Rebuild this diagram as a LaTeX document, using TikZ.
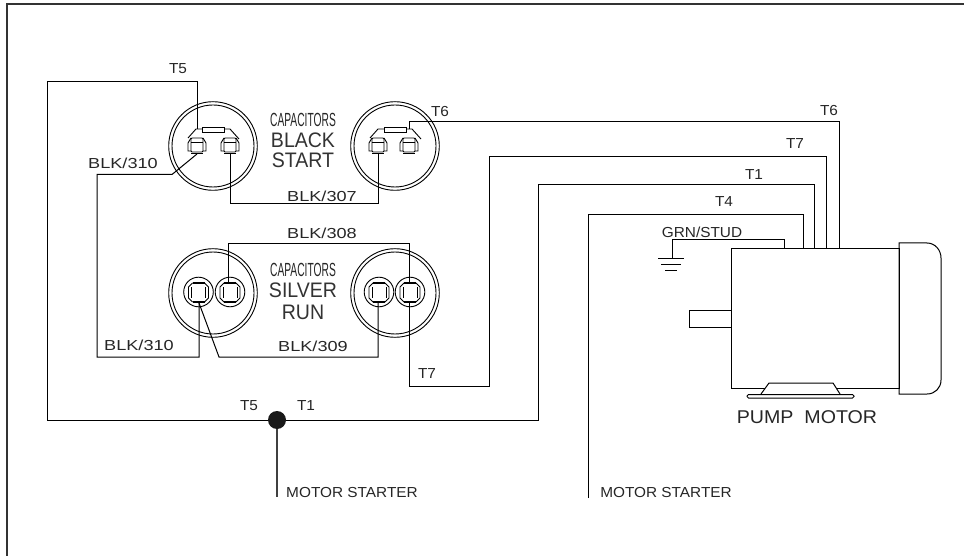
\documentclass[tikz,border=0pt]{standalone}
\usepackage{fontspec}
\setmainfont{Liberation Sans}
\newfontfamily\cadfont[FakeStretch=1.06]{Liberation Sans}
\newfontfamily\cadwide[FakeStretch=1.25]{Liberation Sans}
\newfontfamily\cadbig[FakeStretch=0.93]{Liberation Sans}
\newfontfamily\cadpump[FakeStretch=1.06]{Liberation Sans}
\newfontfamily\cadnarrow[FakeStretch=0.54]{Liberation Sans}
\tikzset{
  wire/.style={line width=1pt,black,line join=miter},
  thin part/.style={line width=0.9pt,black},
  lab/.style={font=\cadfont\fontsize{14.5}{15}\selectfont,inner sep=0pt,text=black!85},
  blklab/.style={font=\cadwide\fontsize{14.5}{15}\selectfont,inner sep=0pt,text=black!85},
  biglab/.style={font=\cadbig\fontsize{21}{22}\selectfont,inner sep=0pt,text=black!80},
  caplab/.style={font=\cadnarrow\fontsize{19}{20}\selectfont,inner sep=0pt,text=black!85},
  pumplab/.style={font=\cadpump\fontsize{18.5}{19}\selectfont,inner sep=0pt,text=black!85},
  blackterm/.pic={
    \draw[thin part,rounded corners=1pt] (-6,-8) rectangle (6,6);
    \draw[thin part] (-6,-4) -- (6,-4);
    \draw[thin part] (-6,-8) -- (-9,-3) -- (-9,5) -- (-6,5);
    \draw[thin part] (6,-8) -- (9,-3) -- (9,5) -- (6,5);
    \draw[line width=1.8pt] (-6,7.5) -- (6,7.5);
  },
  silverterm/.pic={
    \draw[thin part] (0,0) circle (14.8);
    \draw[line width=1.6pt] (-6,-9) -- (6,-9);
    \draw[line width=1.6pt] (-6,10) -- (6,10);
    \draw[thin part] (-6,-9) -- (-10,-5) -- (-10,6) -- (-6,10);
    \draw[thin part] (6,-9) -- (10,-5) -- (10,6) -- (6,10);
    \draw[thin part] (-7,-5) -- (-7,6);
    \draw[thin part] (7,-5) -- (7,6);
  },
  busbar/.pic={
    \draw[thin part] (-11,-19) rectangle (11,-14);
    \draw[thin part] (-11,-17) -- (-17,-17) -- (-25,-8);
    \draw[thin part] (11,-17) -- (17,-17) -- (26,-7);
  }
}
\begin{document}
\begin{tikzpicture}[x=1pt,y=-1pt]
\useasboundingbox (0,0) rectangle (964,556);
\fill[white] (0,0) rectangle (964,556);
% frame
\draw[line width=1.2pt,black!80] (7,556) -- (7,4) -- (964,4);
% anchors
\coordinate (bl) at (213,146);
\coordinate (br) at (395,146);
\coordinate (sl) at (213,293);
\coordinate (sr) at (395,293);
\coordinate (bl1) at (197,146);
\coordinate (bl2) at (230,146);
\coordinate (br1) at (378,146);
\coordinate (br2) at (409,146);
\coordinate (sl1) at (198.5,292);
\coordinate (sl2) at (230,292);
\coordinate (sr1) at (379,292);
\coordinate (sr2) at (410,292);
\coordinate (junc) at (277,420);
\coordinate (ms1) at (277,497);
\coordinate (ms2) at (588,498);
% capacitor cans
\foreach \c in {bl,br,sl,sr}{
  \draw[thin part] (\c) circle (44.3);
  \draw[thin part] (\c) circle (41);
}
% black start terminals
\foreach \c in {bl1,bl2,br1,br2}{
  \pic at (\c) {blackterm};
}
\foreach \c in {bl,br}{
  \pic at (\c) {busbar};
}
% silver run terminals
\foreach \c in {sl1,sl2,sr1,sr2}{
  \pic at (\c) {silverterm};
}
% wires
\draw[wire] ([yshift=17]bl1) -- (197,82) -- (47,82) -- (47,420) -- (junc);
\draw[wire] (junc) -- (538,420) -- (538,185) -- (814,185) -- (814,249);
\draw[wire] ([yshift=-8]bl1) -- (172,174.5) -- (97,174.5) -- (97,357) -- (199,357) -- ([xshift=.5,yshift=-11]sl1);
\draw[wire] ([xshift=.5,yshift=-11]sl1) -- (219,357) -- (378,357) -- ([xshift=-1,yshift=-11]sr1);
\draw[wire] ([yshift=-8]bl2) -- (230,204) -- (378,204) -- ([yshift=-8]br1);
\draw[wire] ([yshift=17]br2) -- (409,121.5) -- (839,121.5) -- (839,249);
\draw[wire] ([xshift=-2,yshift=9]sl2) -- (228,244) -- (409,244) -- ([xshift=-1,yshift=9]sr2);
\draw[wire] ([xshift=-1,yshift=-10]sr2) -- (409,386) -- (489,386) -- (489,157) -- (826,157) -- (826,249);
\draw[wire] (ms2) -- (588,215) -- (803,215) -- (803,249);
\draw[line width=1.1pt,black!75] (junc) -- (ms1);
\fill[black!90] (junc) circle (9);
% ground
\coordinate (gnd) at (672,258);
\draw[wire] (784,249) -- (784,240) -- (672,240) -- (gnd);
\draw[thin part] (658,258.5) -- (684,258.5);
\draw[thin part] (661,264.5) -- (681,264.5);
\draw[thin part] (665,270) -- (677,270);
% motor
\draw[wire] (731,249) rectangle (899,388);
\draw[wire] (899,243) -- (927,243) .. controls (935,243) and (941,250) .. (941,258) -- (941,380) .. controls (941,388) and (935,394) .. (927,394) -- (899,394) -- cycle;
\draw[wire] (731,310) -- (689,310) -- (689,327) -- (731,327);
\draw[wire,fill=white] (761,394) -- (769,383) -- (833,383) -- (840,394);
\draw[wire,fill=white,rounded corners=1.5pt] (747,394.5) rectangle (854,398);
% labels
\node[lab] (t5a) at (178,69) {T5};
\node[blklab] (b310a) at (123,163) {BLK/310};
\node[lab] (t6a) at (440,112) {T6};
\node[lab] (t6b) at (829,111) {T6};
\node[lab] (t7a) at (795,144) {T7};
\node[lab] (t1a) at (754,175) {T1};
\node[lab] (t4a) at (724,202) {T4};
\node[blklab] (b307) at (322,196) {BLK/307};
\node[blklab] (b308) at (322,233) {BLK/308};
\node[blklab] (b309) at (313,346) {BLK/309};
\node[blklab] (b310b) at (139,345) {BLK/310};
\node[lab] (t7b) at (427,374) {T7};
\node[lab] (t5b) at (249,406) {T5};
\node[lab] (t1b) at (306,406) {T1};
\node[lab] (msa) at (352,493) {MOTOR\ STARTER};
\node[lab] (msb) at (666,493) {MOTOR\ STARTER};
\node[lab] (grn) at (702,232) {GRN/STUD};
\node[pumplab] (pump) at (807,417) {PUMP\ \ MOTOR};
\node[caplab] (c1) at (303,120) {CAPACITORS};
\node[biglab] (black) at (303,140) {BLACK};
\node[biglab] (start) at (303,160) {START};
\node[caplab] (c2) at (303,270) {CAPACITORS};
\node[biglab] (silver) at (303,290) {SILVER};
\node[biglab] (run) at (303,312) {RUN};
\end{tikzpicture}
\end{document}
